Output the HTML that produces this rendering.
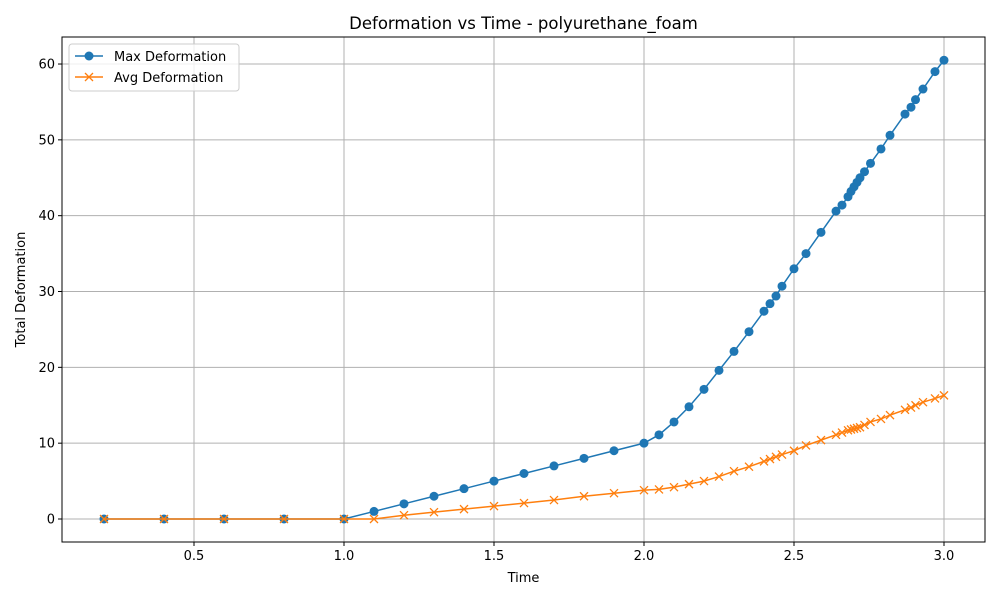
<!DOCTYPE html>
<html><head><meta charset="utf-8"><style>
body{margin:0;background:#fff;font-family:"DejaVu Sans","Liberation Sans",sans-serif}
</style></head><body>
<svg id="chart" width="1000" height="600" xmlns="http://www.w3.org/2000/svg" font-family="DejaVu Sans, Liberation Sans, sans-serif"></svg>
<script>
const times=[0.2,0.4,0.6,0.8,1.0,1.1,1.2,1.3,1.4,1.5,1.6,1.7,1.8,1.9,2.0,2.05,2.1,2.15,2.2,2.25,2.3,2.35,2.4,2.42,2.44,2.46,2.5,2.54,2.59,2.64,2.66,2.68,2.69,2.70,2.71,2.72,2.735,2.755,2.79,2.82,2.87,2.89,2.905,2.93,2.97,3.0];
const maxDef=[0,0,0,0,0,1,2,3,4,5,6,7,8,9,10,11.1,12.8,14.8,17.1,19.6,22.1,24.7,27.4,28.4,29.4,30.7,33.0,35.0,37.8,40.6,41.4,42.5,43.2,43.8,44.4,45.0,45.8,46.9,48.8,50.6,53.4,54.3,55.3,56.7,59.0,60.5];
const avgDef=[0,0,0,0,0,0,0.5,0.9,1.3,1.7,2.1,2.5,3.0,3.4,3.8,3.9,4.2,4.6,5.0,5.6,6.3,6.9,7.6,7.9,8.2,8.5,9.0,9.7,10.4,11.1,11.4,11.7,11.8,11.9,12.0,12.1,12.4,12.8,13.2,13.7,14.4,14.7,15.0,15.4,15.9,16.3];
const xTicks=[0.5,1.0,1.5,2.0,2.5,3.0];
const xTickLabels=["0.5","1.0","1.5","2.0","2.5","3.0"];
const yTicks=[0,10,20,30,40,50,60];
const yTickLabels=["0","10","20","30","40","50","60"];

const L=62,R=985,T=37,B=542;
const sx=v=>44+(v)*300;
const sy=v=>519-v*7.583;
const svg=document.getElementById('chart');
const NS='http://www.w3.org/2000/svg';
function mk(tag,attrs,parent){const e=document.createElementNS(NS,tag);for(const k in attrs)e.setAttribute(k,attrs[k]);(parent||svg).appendChild(e);return e;}

xTicks.forEach((t,i)=>{
  const g=mk('line',{x1:sx(t),x2:sx(t),y1:T,y2:B,stroke:'#b0b0b0','stroke-width':1});
  
  
  mk('line',{x1:sx(t),x2:sx(t),y1:B,y2:B+4,stroke:'#000'});
  const tx=mk('text',{x:sx(t),y:B+18,'text-anchor':'middle','font-size':13});
  tx.textContent=xTickLabels[i];
  
  
});
yTicks.forEach((t,i)=>{
  const g=mk('line',{x1:L,x2:R,y1:sy(t),y2:sy(t),stroke:'#b0b0b0','stroke-width':1});
  
  
  mk('line',{x1:L-4,x2:L,y1:sy(t),y2:sy(t),stroke:'#000'});
  const tx=mk('text',{x:L-7,y:sy(t)+4.5,'text-anchor':'end','font-size':13});
  tx.textContent=yTickLabels[i];
  
  
});

const maxPts=times.map((t,i)=>sx(t)+','+sy(maxDef[i])).join(' ');
const avgPts=times.map((t,i)=>sx(t)+','+sy(avgDef[i])).join(' ');
const maxLine=mk('polyline',{points:maxPts,fill:'none',stroke:'#1f77b4','stroke-width':1.5});


times.forEach((t,i)=>{
  const c=mk('circle',{cx:sx(t),cy:sy(maxDef[i]),r:4.5,fill:'#1f77b4'});
  
  
});
const avgLine=mk('polyline',{points:avgPts,fill:'none',stroke:'#ff7f0e','stroke-width':1.5});


times.forEach((t,i)=>{
  const x=sx(t),y=sy(avgDef[i]);
  const p=mk('path',{d:`M${x-4},${y-4}L${x+4},${y+4}M${x-4},${y+4}L${x+4},${y-4}`,stroke:'#ff7f0e','stroke-width':1.3});
  
  
});

const fr=mk('rect',{x:L,y:T,width:R-L,height:B-T,fill:'none',stroke:'#000','stroke-width':1});



const title=mk('text',{x:(L+R)/2,y:29,'text-anchor':'middle','font-size':16.5});
title.textContent='Deformation vs Time - polyurethane_foam';


const xt=mk('text',{x:(L+R)/2,y:582,'text-anchor':'middle','font-size':13});
xt.textContent='Time';


const yt=mk('text',{x:25,y:(T+B)/2,'text-anchor':'middle','font-size':13,transform:`rotate(-90 25 ${(T+B)/2})`});
yt.textContent='Total Deformation';



const lg=mk('g',{});


mk('rect',{x:69,y:44,width:170,height:47,rx:3,fill:'#fff','fill-opacity':0.8,stroke:'#ccc'},lg);
mk('line',{x1:75,x2:103,y1:56,y2:56,stroke:'#1f77b4','stroke-width':1.5},lg);
mk('circle',{cx:89,cy:56,r:4.5,fill:'#1f77b4'},lg);
const l1=mk('text',{x:114,y:61,'font-size':13},lg);l1.textContent='Max Deformation';


mk('line',{x1:75,x2:103,y1:77,y2:77,stroke:'#ff7f0e','stroke-width':1.5},lg);
mk('path',{d:'M85,73L93,81M85,81L93,73',stroke:'#ff7f0e','stroke-width':1.3},lg);
const l2=mk('text',{x:114,y:82,'font-size':13},lg);l2.textContent='Avg Deformation';


</script>
</body></html>
